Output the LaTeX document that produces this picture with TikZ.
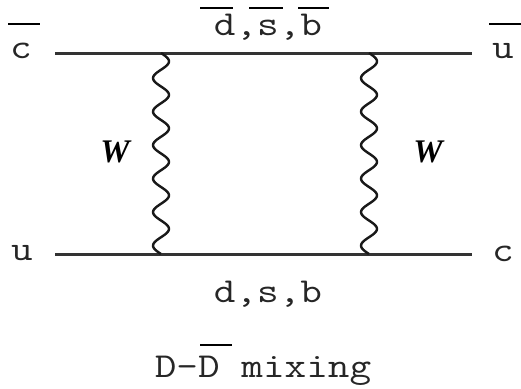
\documentclass[tikz,border=0pt]{standalone}
\usepackage{fontspec}
\newfontfamily\wfont{Liberation Serif}
\newcommand{\widetxt}[1]{\scalebox{1.2}[1]{#1}}
\tikzset{
  quark/.style={line width=3pt, draw=black!80},
  boson/.style={line width=2.4pt, draw=black!90, line join=round},
  lbl/.style={font=\fontsize{35}{40}\selectfont\ttfamily, text=black!85, anchor=base, inner sep=0pt},
  wlbl/.style={font=\fontsize{33}{36}\selectfont\wfont\bfseries\itshape, inner sep=0pt},
  bar/.style={line width=2.2pt}
}
\begin{document}
\begin{tikzpicture}[x=1pt,y=-1pt]
\useasboundingbox (0,0) rectangle (521,388);
% quark lines
\coordinate (tl) at (55,53);
\coordinate (tr) at (472,53);
\coordinate (bl) at (55,254);
\coordinate (br) at (472,254);
\draw[quark] (tl) -- (tr);
\draw[quark] (bl) -- (br);
% W propagators (wavy), from top vertex to bottom vertex; \x counts periods
\draw[boson] plot[smooth, domain=0:6, samples=145] ({161+8*sin(\x*360)},{53+33.5*\x});
\draw[boson] plot[smooth, domain=0:6, samples=145] ({369+8*sin(\x*360)},{53+33.5*\x});
% labels
\node[lbl] (cin) at (21,58) {\widetxt{c}};
\node[lbl] (uout) at (503,58) {\widetxt{u}};
\node[lbl] (uin) at (22,260) {\widetxt{u}};
\node[lbl] (cout) at (503,261) {\widetxt{c}};
\node[lbl] (top) at (268,35) {\widetxt{d,s,b}};
\node[lbl] (bot) at (268,302) {\widetxt{d,s,b}};
\node[lbl] (mix) at (263,377) {\widetxt{D-D mixing}};
\node[wlbl] (w1) at (115,152) {W};
\node[wlbl] (w2) at (428,152) {W};
% overbars
\coordinate (b1a) at (8,24);   \coordinate (b1b) at (40,24);
\coordinate (b2a) at (489,24); \coordinate (b2b) at (521,24);
\coordinate (b3a) at (200,8);  \coordinate (b3b) at (233,8);
\coordinate (b4a) at (249,8);  \coordinate (b4b) at (283,8);
\coordinate (b5a) at (298,8);  \coordinate (b5b) at (329,8);
\coordinate (b6a) at (200,345); \coordinate (b6b) at (232,345);
\draw[bar] (b1a) -- (b1b);
\draw[bar] (b2a) -- (b2b);
\draw[bar] (b3a) -- (b3b);
\draw[bar] (b4a) -- (b4b);
\draw[bar] (b5a) -- (b5b);
\draw[bar] (b6a) -- (b6b);
\end{tikzpicture}
\end{document}
